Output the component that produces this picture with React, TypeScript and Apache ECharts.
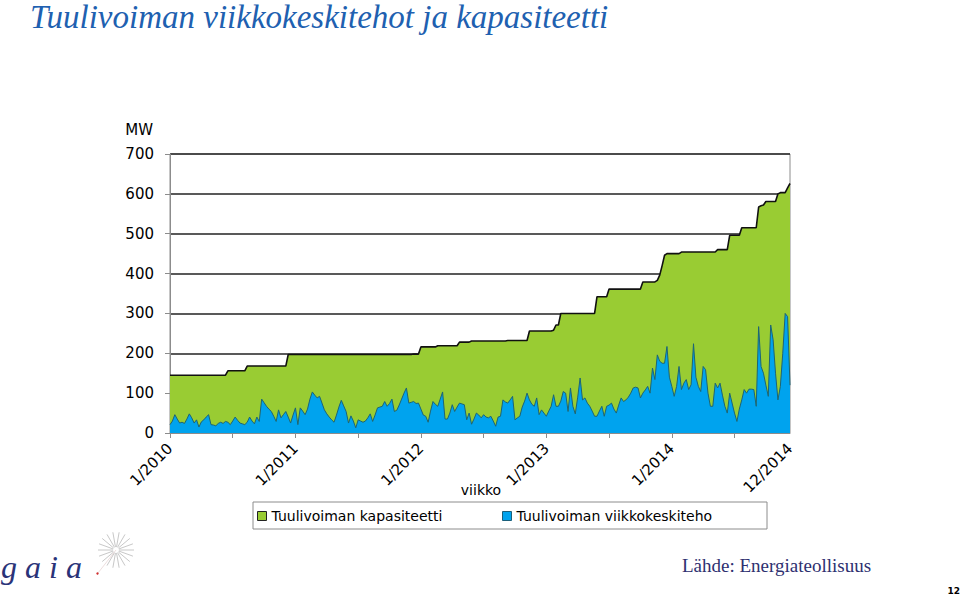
import React, { useEffect, useRef } from "react";
import * as echarts from "echarts";

// Weekly capacity (MW), weeks 1/2010 ... 12/2014
const capacity: number[] = [
  // 0-23
  145, 145, 145, 145, 145, 145, 145, 145, 145, 145, 145, 145, 145, 145, 145, 145, 145, 145, 145, 145, 145, 145, 145, 145,
  // 24-31
  156, 156, 156, 156, 156, 156, 156, 156,
  // 32-48
  168, 168, 168, 168, 168, 168, 168, 168, 168, 168, 168, 168, 168, 168, 168, 168, 168,
  // 49-103
  197, 197, 197, 197, 197, 197, 197, 197, 197, 197, 197, 197, 197, 197, 197, 197, 197, 197, 197, 197,
  197, 197, 197, 197, 197, 197, 197, 197, 197, 197, 197, 197, 197, 197, 197, 197, 197, 197, 197, 197,
  197, 197, 197, 197, 197, 197, 197, 197, 197, 197, 197, 197, 198, 198, 198,
  // 104-110
  216, 216, 216, 216, 216, 216, 216,
  // 111-119
  219, 219, 219, 219, 219, 219, 219, 219, 219,
  // 120-124
  228, 228, 228, 228, 228,
  // 125-139
  231, 231, 231, 231, 231, 231, 231, 231, 231, 231, 231, 231, 231, 231, 231,
  // 140-148
  232, 232, 232, 232, 232, 232, 232, 232, 232,
  // 149-158
  256, 256, 256, 256, 256, 256, 256, 256, 256, 256,
  // 159-161
  258, 271, 271,
  // 162-176
  300, 300, 300, 300, 300, 300, 300, 300, 300, 300, 300, 300, 300, 300, 300,
  // 177-181
  342, 342, 342, 342, 342,
  // 182-195
  361, 361, 361, 361, 361, 361, 361, 361, 361, 361, 361, 361, 361, 361,
  // 196-204
  379, 379, 379, 379, 379, 379, 383, 396, 420,
  // 205-211
  446, 450, 450, 450, 450, 450, 450,
  // 212-226
  454, 454, 454, 454, 454, 454, 454, 454, 454, 454, 454, 454, 454, 454, 454,
  // 227-231
  460, 460, 460, 460, 460,
  // 232-236
  496, 496, 496, 496, 496,
  // 237-243
  515, 515, 515, 515, 515, 515, 515,
  // 244-257
  567, 570, 572, 581, 581, 581, 581, 581, 600, 603, 603, 603, 615, 626,
];

// Weekly average wind power (MW)
const weeklyPower: number[] = [
  21, 30, 46, 35, 25, 27, 24, 35, 48, 38, 25, 33, 15, 28, 33, 40, 46, 21, 20, 18,
  24, 27, 24, 29, 27, 21, 30, 40, 32, 25, 23, 21, 27, 40, 30, 23, 40, 29, 85, 76,
  67, 60, 54, 42, 29, 58, 38, 46, 54, 40, 25, 45, 63, 21, 63, 55, 46, 60, 85, 103,
  95, 88, 92, 75, 58, 48, 40, 33, 27, 45, 65, 82, 68, 54, 25, 43, 30, 13, 33, 30,
  27, 30, 38, 48, 29, 45, 63, 65, 67, 79, 67, 74, 85, 54, 57, 70, 85, 100, 113, 75,
  77, 79, 74, 75, 60, 45, 42, 27, 55, 79, 72, 67, 85, 103, 35, 35, 50, 71, 54, 65,
  75, 73, 71, 33, 50, 22, 35, 50, 45, 38, 46, 40, 38, 42, 30, 17, 40, 42, 83, 78,
  75, 83, 92, 33, 38, 42, 65, 80, 100, 83, 72, 67, 88, 46, 58, 50, 42, 55, 67, 96,
  67, 67, 80, 104, 100, 54, 113, 67, 48, 90, 138, 83, 88, 75, 67, 55, 42, 42, 55, 67,
  42, 67, 70, 75, 60, 50, 70, 88, 79, 83, 90, 100, 113, 115, 113, 88, 100, 108, 117, 100,
  163, 134, 196, 180, 175, 175, 217, 140, 117, 92, 117, 167, 109, 125, 134, 109, 121, 224, 140, 117,
  104, 167, 159, 100, 67, 67, 125, 113, 125, 95, 67, 50, 100, 75, 50, 29, 60, 83, 109, 100,
  110, 110, 109, 67, 267, 167, 150, 120, 92, 271, 234, 150, 83, 117, 200, 300, 292, 120,
];

const tickLabels = ["1/2010", "1/2011", "1/2012", "1/2013", "1/2014", "12/2014"];
const tickLabelIndex = [0, 52, 104, 156, 208, 257];

const seriesNames = ["Tuulivoiman kapasiteetti", "Tuulivoiman viikkokeskiteho"];

const weekCategories: string[] = capacity.map((_, i) => `vk ${i + 1}`);

const GREEN = "#99CC33";
const BLUE = "#00A3EE";

export default function App() {
  const ref = useRef<HTMLDivElement>(null);

  useEffect(() => {
    if (!ref.current) return;
    const chart = echarts.init(ref.current, undefined, { renderer: "svg" });

    const rays: any[] = [];
    const cx = 116;
    const cy = 550;
    for (let k = 0; k < 18; k++) {
      const a = (k / 18) * Math.PI * 2;
      rays.push({
        type: "line",
        shape: {
          x1: cx + Math.cos(a) * 3,
          y1: cy + Math.sin(a) * 3,
          x2: cx + Math.cos(a) * 18,
          y2: cy + Math.sin(a) * 18,
        },
        style: { stroke: "#c8c8c8", lineWidth: 1 },
        silent: true,
      });
    }

    const option: any = {
      animation: false,
      backgroundColor: "#ffffff",
      textStyle: { fontFamily: "DejaVu Sans" },
      grid: {
        left: 170,
        right: 170,
        top: 154,
        bottom: 162,
        show: true,
        borderColor: "#8c8c8c",
        borderWidth: 1,
        backgroundColor: "transparent",
      },
      legend: [
        {
          data: [seriesNames[0]],
          left: 257,
          top: 509,
          itemWidth: 9,
          itemHeight: 9,
          itemGap: 0,
          padding: 0,
          icon: "rect",
          textStyle: { fontFamily: "DejaVu Sans", fontSize: 14, color: "#000" },
          itemStyle: { color: GREEN, borderColor: "#222", borderWidth: 1 },
        },
        {
          data: [seriesNames[1]],
          left: 502,
          top: 509,
          itemWidth: 9,
          itemHeight: 9,
          itemGap: 0,
          padding: 0,
          icon: "rect",
          textStyle: { fontFamily: "DejaVu Sans", fontSize: 14, color: "#000" },
          itemStyle: { color: BLUE, borderColor: "#1a5f7a", borderWidth: 1 },
        },
      ],
      xAxis: {
        type: "category",
        data: weekCategories,
        boundaryGap: false,
        axisLine: { show: true, lineStyle: { color: "#8c8c8c", width: 1 } },
        axisTick: {
          show: true,
          length: 5,
          interval: (index: number) => index % 26 === 0,
          lineStyle: { color: "#8c8c8c" },
        },
        axisLabel: {
          interval: (index: number) => tickLabelIndex.indexOf(index) >= 0,
          formatter: (_v: string, index: number) => {
            const k = tickLabelIndex.indexOf(index);
            return k >= 0 ? tickLabels[k] : "";
          },
          rotate: 45,
          margin: 13,
          fontSize: 15,
          color: "#000",
          fontFamily: "DejaVu Sans",
        },
        splitLine: { show: false },
      },
      yAxis: {
        type: "value",
        min: 0,
        max: 700,
        interval: 100,
        axisLine: { show: true, lineStyle: { color: "#8c8c8c", width: 1 } },
        axisTick: { show: true, length: 5, lineStyle: { color: "#8c8c8c" } },
        axisLabel: { fontSize: 15, color: "#000", margin: 16, fontFamily: "DejaVu Sans" },
        splitLine: { show: true, lineStyle: { color: "#222", width: 1.5 } },
      },
      series: [
        {
          name: seriesNames[0],
          type: "line",
          data: capacity,
          symbol: "none",
          lineStyle: { color: "#111", width: 1.6 },
          itemStyle: { color: GREEN },
          areaStyle: { color: GREEN, opacity: 1 },
          z: 2,
        },
        {
          name: seriesNames[1],
          type: "line",
          data: weeklyPower,
          symbol: "none",
          lineStyle: { color: "#1d6474", width: 1 },
          itemStyle: { color: BLUE },
          areaStyle: { color: BLUE, opacity: 1 },
          z: 3,
        },
      ],
      graphic: [
        {
          type: "text",
          left: 30,
          top: 0,
          style: {
            text: "Tuulivoiman viikkokeskitehot ja kapasiteetti",
            font: "italic 33px 'Liberation Serif'",
            fill: "#2060b0",
          },
        },
        {
          type: "text",
          x: 153,
          y: 130,
          style: {
            text: "MW",
            font: "15px 'DejaVu Sans'",
            fill: "#000",
            align: "right",
            verticalAlign: "middle",
          },
        },
        {
          type: "text",
          x: 481,
          y: 490,
          style: {
            text: "viikko",
            font: "14px 'DejaVu Sans'",
            fill: "#000",
            align: "center",
            verticalAlign: "middle",
          },
        },
        {
          type: "rect",
          shape: { x: 253, y: 502, width: 514, height: 27 },
          style: { fill: "none", stroke: "#8c8c8c", lineWidth: 1 },
          silent: true,
        },
        {
          type: "text",
          x: 1,
          y: 567,
          style: {
            text: "g a i a",
            font: "italic 32px 'Liberation Serif'",
            fill: "#2a3378",
            verticalAlign: "middle",
          },
        },
        ...rays,
        {
          type: "line",
          shape: { x1: 98, y1: 573, x2: cx, y2: cy },
          style: { stroke: "#e0c8c8", lineWidth: 0.6 },
          silent: true,
        },
        {
          type: "circle",
          shape: { cx: 97.5, cy: 573.5, r: 1.2 },
          style: { fill: "#d03030" },
          silent: true,
        },
        {
          type: "text",
          x: 682,
          y: 565,
          style: {
            text: "Lähde: Energiateollisuus",
            font: "19px 'Liberation Serif'",
            fill: "#2e3070",
            verticalAlign: "middle",
          },
        },
        {
          type: "text",
          x: 960,
          y: 591,
          style: {
            text: "12",
            font: "bold 9px 'DejaVu Sans'",
            fill: "#000",
            align: "right",
            verticalAlign: "middle",
          },
        },
      ],
    };

    chart.setOption(option);
    return () => chart.dispose();
  }, []);

  return (
    <div
      ref={ref}
      style={{ width: 960, height: 595, position: "absolute", left: 0, top: 0 }}
    />
  );
}
